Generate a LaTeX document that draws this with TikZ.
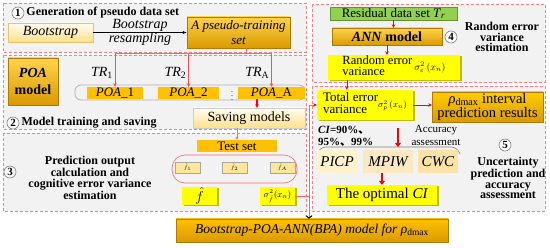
\documentclass[tikz,border=0pt]{standalone}
\usepackage{fontspec}
\setmainfont{Liberation Serif}
\newfontfamily\cjk{Noto Sans CJK SC}
\usetikzlibrary{arrows.meta,positioning,shadows}
\definecolor{dashpink}{HTML}{FF7C80}
\definecolor{panelgray}{HTML}{F2F2F2}
\definecolor{goldA}{HTML}{FFD34D}
\definecolor{goldB}{HTML}{D99A00}
\definecolor{amber}{HTML}{FFC000}
\definecolor{creamA}{HTML}{FFFDF0}
\definecolor{creamB}{HTML}{FFE08A}
\definecolor{lemon}{HTML}{FFFF00}
\definecolor{olive}{HTML}{BDBD00}
\definecolor{leaf}{HTML}{92D050}
\definecolor{paleor}{HTML}{FFE699}
\definecolor{pcream}{HTML}{FFF2CC}
\definecolor{mcream}{HTML}{FCE8C2}
\definecolor{ccream}{HTML}{FBE2A6}
\newcommand{\fs}[2]{\fontsize{#1}{#2}\selectfont}
\tikzset{
  panel/.style={draw=dashpink, fill=panelgray, line width=0.7pt, dash pattern=on 3pt off 2pt},
  num/.style={circle, draw=gray, fill=white, line width=0.6pt, minimum size=12pt, inner sep=0pt, font=\bfseries\fs{11}{11}},
  headtxt/.style={font=\bfseries\fs{12}{10.5}, align=center, inner sep=0pt},
  goldbox/.style={draw=goldB!80!black, top color=goldA, bottom color=goldB, inner sep=0pt, align=center},
  creambox/.style={top color=creamA, bottom color=creamB, inner sep=0pt},
  lemonbox/.style={fill=lemon, inner sep=0pt, align=center, general shadow={fill=olive, shadow xshift=1.5pt, shadow yshift=-1.5pt}},
  amberbox/.style={fill=amber, inner sep=0pt},
  pinkln/.style={draw=dashpink!80!red, line width=0.6pt},
  redarr/.style={-{Stealth[length=3.5pt,width=3.5pt]}, red, line width=0.6pt},
  fatarr/.style={-{Triangle[length=4pt,width=6pt]}, red, line width=2pt}
}
\begin{document}
\begin{tikzpicture}[x=1pt,y=-1pt]
  \useasboundingbox (0,0) rectangle (550,248);
  % panels
  \draw[panel] (3,3) rectangle (306,52);
  \draw[panel] (3,55) rectangle (306,129);
  \draw[panel] (3,133) rectangle (306,211);
  \draw[panel] (312,4) rectangle (545,82);
  \draw[panel] (312,86) rectangle (545,211);
  % 1 pseudo data set
  \node[num] (n1) at (18,13) {1};
  \node[headtxt, right=2pt of n1] (h1) {Generation of pseudo data set};
  \node[creambox, draw=goldB!60, minimum width=85pt, minimum height=19pt, font=\itshape\fs{14}{14}] (boot) at (50.5,32.5) {Bootstrap};
  \node[goldbox, minimum width=103pt, minimum height=31pt, font=\itshape\fs{13}{15}] (pseudo) at (238.5,32.5) {A pseudo-training\\set};
  \draw[-{Latex[length=4pt]}, line width=0.5pt] (boot) -- node[above=-3pt, font=\itshape\fs{14}{14}] (bl1) {Bootstrap} node[below=-3pt, font=\itshape\fs{14}{14}] (bl2) {resampling} (pseudo);
  % 2 model training
  \node[goldbox, minimum width=50pt, minimum height=47pt, font=\bfseries\fs{14}{17}] (poa) at (33,81.5) {\textit{POA}\\model};
  \draw[gray!60, line width=0.8pt, rounded corners=6pt] (75,85) rectangle (305,100);
  \coordinate (split) at (246,53);
  \draw[pinkln] (pseudo.south -| split) -- (split);
  \foreach \i/\x/\w in {1/115/56pt, 2/188.5/61pt, A/271.5/67pt} {
    \node[amberbox, minimum width=\w, minimum height=12pt, font=\fs{13}{13}] (poa\i) at (\x,93) {\textit{POA}\_\i};
    \coordinate (top\i) at (poa\i.north |- split);
    \draw[redarr, draw=red!70, fill=red] (top\i) -- (poa\i.north);
    \node[anchor=east, font=\itshape\fs{14}{14}, inner sep=1pt] (tr\i) at (\x-1,73) {TR\textsubscript{\upshape\i}};
  }
  \draw[pinkln] (top1) -- (topA);
  \node[font=\fs{8}{8}] (dots) at (232,93) {$\vdots$};
  \node[creambox, draw=gray!40, minimum width=112pt, minimum height=20pt, font=\fs{14}{14}] (saving) at (249,118) {Saving models};
  \coordinate (sv) at ([xshift=-14.5pt]poaA.south);
  \draw[redarr, line width=1.2pt] (sv) -- (sv |- saving.north);
  \node[num] (n2) at (13,123) {2};
  \node[headtxt, right=2pt of n2] (h2) {Model training and saving};
  % 3 prediction output
  \node[num] (n3) at (10,172) {3};
  \node[headtxt] (h3) at (90,178) {Prediction output\\calculation and\\cognitive error variance\\estimation};
  \node[amberbox, minimum width=80pt, minimum height=12pt, font=\fs{13}{13}] (test) at (237,146) {Test set};
  \draw[pinkln, rounded corners=13pt] (172,155) rectangle (297,183);
  \foreach \i/\x in {1/187.5, 2/234.5, A/282.5}
    \node[fill=paleor, draw=gray!70, minimum width=25pt, minimum height=11pt, inner sep=0pt, font=\fs{5}{5}] (fh\i) at (\x,167.5) {$\hat{f}_{\i}$};
  \node[lemonbox, minimum width=35pt, minimum height=18pt, font=\fs{14}{14}] (fbig) at (199.5,196) {$\hat{f}$};
  \node[lemonbox, minimum width=35pt, minimum height=18pt, font=\fs{9}{9}] (sigf) at (277.5,196) {$\sigma^2_{\hat f}(x_n)$};
  % 4 random error
  \node[fill=leaf, draw=leaf!70!black, minimum width=127pt, minimum height=13pt, inner sep=0pt, font=\fs{13}{13}] (resid) at (393.5,13.5) {Residual data set \textit{T}\textsubscript{\textit{r}}};
  \node[goldbox, minimum width=110pt, minimum height=17pt, font=\bfseries\fs{14}{14}] (ann) at (387,36.5) {\textit{ANN} model};
  \node[num] (n4) at (451,37) {4};
  \node[headtxt] (h4) at (502,37) {Random error\\variance\\estimation};
  \node[lemonbox, minimum width=132pt, minimum height=25pt, font=\fs{12.5}{11}] (randerr) at (394,67.5) {\begin{tabular}[c]{@{}l@{}}Random error\\variance\end{tabular}\,{\fs{10}{10}$\sigma_\varepsilon^2\left(x_n\right)$}};
  % 5 uncertainty
  \node[lemonbox, minimum width=96pt, minimum height=30pt, font=\fs{13}{12}] (total) at (365,105) {\begin{tabular}[c]{@{}l@{}}Total error\\variance\end{tabular}{\fs{9}{9}$\sigma_p^2\left(x_n\right)$}};
  \node[goldbox, top color=amber!80!yellow, bottom color=goldB, minimum width=111pt, minimum height=30pt, font=\fs{14.5}{14}] (interval) at (487.5,107) {{\itshape ρ}\textsubscript{dmax} interval\\prediction results};
  \node[font=\bfseries\fs{11}{12}, align=left, anchor=west, inner sep=0pt] (ci) at (318,136) {\textit{CI}=90\%{\cjk 、}\\95\%{\cjk 、}99\%};
  \node[font=\fs{11}{13}, align=center, inner sep=0pt] (acc) at (436,135) {Accuracy\\assessment};
  \coordinate (fat1) at (398,128);
  \coordinate (fat2) at (398,147);
  \draw[gray, line width=0.6pt, rounded corners=6pt] (317,154) -- (320,147) -- (457,147) -- (460,154);
  \foreach \n/\x/\w/\c in {PICP/337/40pt/pcream, MPIW/388/50pt/mcream, CWC/438/40pt/ccream}
    \node[fill=\c, minimum width=\w, minimum height=23pt, inner sep=0pt, font=\itshape\fs{15}{15}] (\n) at (\x,161.5) {\n};
  \node[lemonbox, minimum width=110pt, minimum height=20pt, font=\fs{15}{15}] (optimal) at (382,195) {The optimal \textit{CI}};
  \node[num] (n5) at (505,145) {5};
  \node[headtxt] (h5) at (508,178) {Uncertainty\\prediction and\\accuracy\\assessment};
  % final model
  \node[goldbox, top color=amber, bottom color=goldB, minimum width=272pt, minimum height=23pt, font=\itshape\fs{13.5}{13.5}] (final) at (312,230.5) {Bootstrap-POA-ANN(BPA) model for ρ\textsubscript{\upshape dmax}};
  % connectors
  \draw[pinkln, -{Stealth[length=3pt,width=3pt]}] (saving.south -| test.north) -- (test.north);
  \coordinate (bend) at (309,196);
  \draw[pinkln, -{Stealth[length=3.5pt,width=3.5pt,color=red]}] (sigf.east) -- (bend) |- (total.west);
  \draw[pinkln, -{Straight Barb[length=2.5pt,width=6pt,color=black,line width=1pt]}] (bend) -- (bend |- final.north);
  \draw[redarr] (resid.south) -- (resid.south |- ann.north);
  \draw[redarr] (ann.south) -- (ann.south |- randerr.north);
  \draw[redarr] ([xshift=19pt]randerr.south west) -- ([xshift=30pt]total.north west);
  \draw[redarr] (total.east) -- (total.east -| interval.west);
  \draw[fatarr] (fat1) -- (fat2);
  \coordinate (mp) at ([xshift=-6pt]MPIW.south);
  \draw[fatarr] (mp) -- (mp |- optimal.north);
\end{tikzpicture}
\end{document}
